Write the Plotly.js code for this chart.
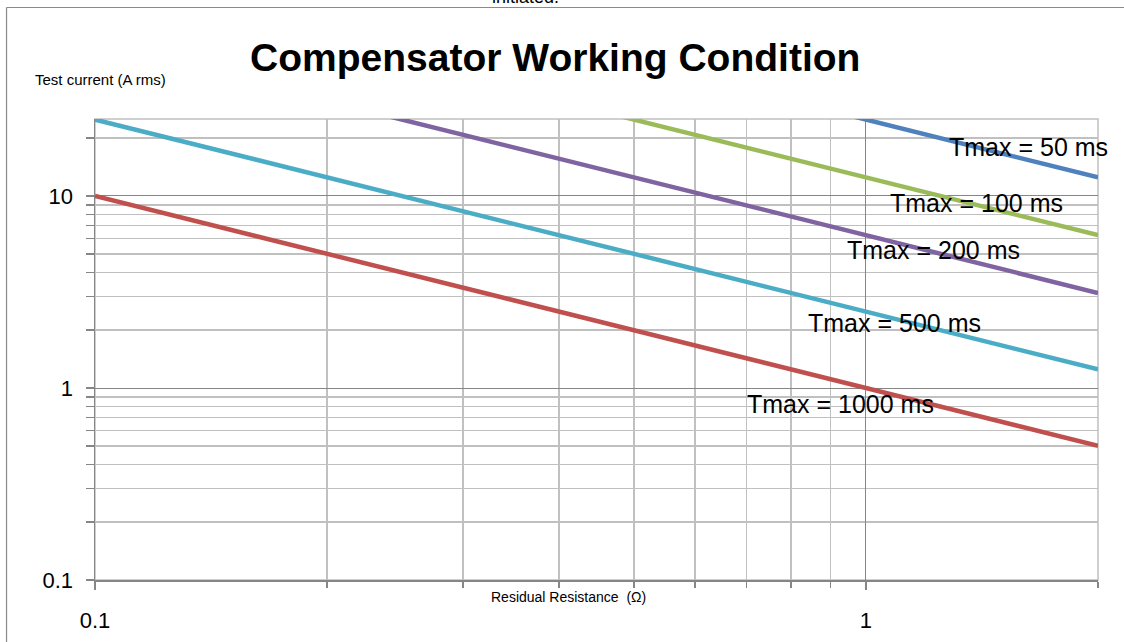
<!DOCTYPE html>
<html>
<head>
<meta charset="utf-8">
<script src="https://cdn.plot.ly/plotly-3.0.1.min.js"></script>
<style>
  html, body { margin: 0; padding: 0; background: #fff; overflow: hidden; }
  #chart { width: 1124px; height: 642px; }
</style>
</head>
<body>
<div id="chart"></div>
<script>
// Residual resistance (ohm)
const resistance = [0.1, 0.2, 0.5, 1, 2];
// Series names
const seriesNames = ['Tmax = 50 ms', 'Tmax = 100 ms', 'Tmax = 200 ms', 'Tmax = 500 ms', 'Tmax = 1000 ms'];
// Test current (A rms) per series
const current50ms   = [250, 125, 50, 25, 12.5];
const current100ms  = [125, 62.5, 25, 12.5, 6.25];
const current200ms  = [62.5, 31.25, 12.5, 6.25, 3.125];
const current500ms  = [25, 12.5, 5, 2.5, 1.25];
const current1000ms = [10, 5, 2, 1, 0.5];
const seriesValues = [current50ms, current100ms, current200ms, current500ms, current1000ms];
const seriesColors = ['#4F81BD', '#9BBB59', '#8064A2', '#4BACC6', '#C0504D'];
// Tick labels
const xTickVals = [0.1, 1];
const xTickText = ['0.1', '1'];
const yTickVals = [0.1, 1, 10];
const yTickText = ['0.1', '1', '10'];
const xMinorTicks = [0.2, 0.3, 0.4, 0.5, 0.6, 0.7, 0.8, 0.9, 2];
const yMinorTicks = [0.2, 0.3, 0.4, 0.5, 0.6, 0.7, 0.8, 0.9, 2, 3, 4, 5, 6, 7, 8, 9, 20];

const FONT = 'Liberation Sans, Arial, sans-serif';

const traces = seriesNames.map((name, i) => ({
  type: 'scatter', mode: 'lines', name: name,
  x: resistance, y: seriesValues[i],
  line: { color: seriesColors[i], width: 4.5 },
  hoverinfo: 'skip'
}));

// label placements in paper coords
const labelPos = [
  [0.931, 0.939], [0.879, 0.818], [0.836, 0.716], [0.797, 0.557], [0.743, 0.382]
];

const annotations = seriesNames.map((name, i) => ({
  text: name, xref: 'paper', yref: 'paper',
  x: labelPos[i][0], y: labelPos[i][1], xanchor: 'center', yanchor: 'middle',
  showarrow: false, font: { family: FONT, size: 25, color: '#000' }
}));
annotations.push({
  text: 'Test current (A rms)', xref: 'paper', yref: 'paper',
  x: 0.005, y: 1.085, xanchor: 'center', yanchor: 'middle', showarrow: false,
  font: { family: FONT, size: 15, color: '#000' }
});
annotations.push({
  text: 'Residual Resistance  (Ω)', xref: 'paper', yref: 'paper',
  x: 0.4716, y: -0.037, xanchor: 'center', yanchor: 'middle', showarrow: false,
  font: { family: FONT, size: 14, color: '#000' }
});
annotations.push({
  text: 'initiated.', xref: 'paper', yref: 'paper',
  x: 0.429, y: 1.238, xanchor: 'center', yanchor: 'bottom', showarrow: false,
  font: { family: FONT, size: 18, color: '#000' }
});

// outer chart-area frame (paper coords; left and top edges visible)
const frameLeft = -0.0882, frameTop = 1.2419;

const layout = {
  width: 1124, height: 642,
  margin: { l: 95, r: 26, t: 119, b: 62, pad: 0 },
  paper_bgcolor: '#fff', plot_bgcolor: '#fff',
  showlegend: false,
  title: {
    text: '<b>Compensator Working Condition</b>',
    x: 0.494, xanchor: 'center', y: 0.91, yanchor: 'middle',
    font: { family: FONT, size: 39, color: '#000' }
  },
  xaxis: {
    type: 'log', range: [-1, Math.log10(2)],
    tickmode: 'array', tickvals: xTickVals, ticktext: xTickText,
    showgrid: true, gridcolor: '#868686', gridwidth: 1,
    showline: true, linecolor: '#868686', linewidth: 1.5,
    ticks: 'outside', ticklen: 8, tickcolor: '#868686', tickwidth: 1.5,
    ticklabelstandoff: 12,
    tickfont: { family: FONT, size: 22, color: '#000' },
    minor: { tickmode: 'array', tickvals: xMinorTicks, showgrid: true, gridcolor: '#c0c0c0', gridwidth: 1.5,
             ticks: 'outside', ticklen: 6, tickcolor: '#868686', tickwidth: 1.5 },
    zeroline: false, fixedrange: true
  },
  yaxis: {
    type: 'log', range: [-1, 1.401],
    tickmode: 'array', tickvals: yTickVals, ticktext: yTickText,
    showgrid: true, gridcolor: '#868686', gridwidth: 1,
    showline: true, linecolor: '#868686', linewidth: 1.5,
    ticks: 'outside', ticklen: 8, tickcolor: '#868686', tickwidth: 1.5,
    ticklabelstandoff: 8,
    tickfont: { family: FONT, size: 22, color: '#000' },
    minor: { tickmode: 'array', tickvals: yMinorTicks, showgrid: true, gridcolor: '#c0c0c0', gridwidth: 1.5,
             ticks: 'outside', ticklen: 8, tickcolor: '#868686', tickwidth: 1.5 },
    zeroline: false, fixedrange: true
  },
  shapes: [
    { type: 'rect', xref: 'paper', yref: 'paper', x0: 0, x1: 1, y0: 0, y1: 1,
      line: { color: '#c0c0c0', width: 1.5 }, layer: 'below' },
    { type: 'line', xref: 'paper', yref: 'paper', x0: frameLeft, x1: frameLeft, y0: frameTop, y1: -0.3,
      line: { color: '#8a8a8a', width: 1.2 } },
    { type: 'line', xref: 'paper', yref: 'paper', x0: frameLeft, x1: 1.2, y0: frameTop, y1: frameTop,
      line: { color: '#8a8a8a', width: 1.2 } }
  ],
  annotations: annotations
};

Plotly.newPlot('chart', traces, layout, { displayModeBar: false, staticPlot: true });
</script>
</body>
</html>
